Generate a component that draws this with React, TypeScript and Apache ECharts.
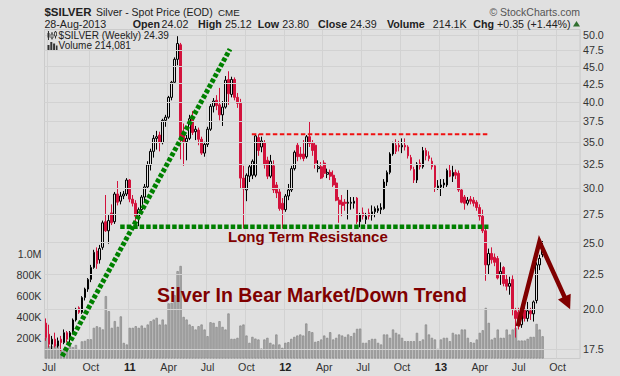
import React, { useEffect, useRef } from "react";
import * as echarts from "echarts";

// ---------- data ----------
const firstWeekUTC = Date.UTC(2010, 5, 25); // week ending Fri 25-Jun-2010
const totalSlots = 179; // weekly slots on the axis (includes empty future weeks)

// weekly bars: [open, high, low, close]
const ohlc2010 = [
  [19.1, 19.4, 18.0, 18.2], [18.4, 19.0, 17.6, 17.8], [17.8, 18.3, 17.5, 18.1], [18.1, 18.5, 17.6, 17.7],
  [17.7, 18.2, 17.6, 18.0], [18.1, 18.3, 17.4, 17.9], [17.9, 18.7, 17.8, 18.5], [18.5, 18.6, 17.9, 18.1],
  [18.1, 18.6, 17.9, 18.5], [18.6, 19.4, 18.4, 19.3], [19.3, 20.1, 19.2, 20.0], [20.1, 20.2, 19.7, 19.8],
  [19.8, 20.9, 19.7, 20.8], [20.8, 21.5, 20.6, 21.4], [21.4, 22.2, 21.2, 22.1], [22.1, 23.2, 21.9, 23.0],
  [23.0, 24.4, 22.9, 24.2], [24.3, 24.6, 22.9, 23.3], [23.6, 24.8, 23.3, 24.5], [24.6, 26.9, 24.4, 26.7],
  [26.8, 29.3, 25.9, 26.0], [26.0, 27.4, 24.9, 26.9], [27.6, 28.4, 26.5, 26.7], [26.8, 29.6, 26.6, 29.4],
  [29.4, 30.7, 28.3, 28.6], [28.7, 29.6, 28.4, 29.2], [29.2, 29.7, 28.9, 29.4], [29.4, 31.0, 29.2, 30.8],
];
const ohlc2011 = [
  [30.8, 30.9, 28.6, 28.9], [28.9, 29.3, 28.2, 28.5], [28.5, 28.8, 26.8, 27.3], [27.3, 28.1, 26.4, 27.9],
  [27.9, 29.3, 27.6, 29.1], [29.1, 30.4, 28.7, 30.1], [30.1, 32.8, 29.9, 32.4], [32.4, 34.2, 31.8, 33.9],
  [33.9, 35.8, 33.2, 35.4], [35.4, 36.3, 34.1, 35.6], [35.8, 36.2, 33.9, 34.9], [34.9, 37.8, 34.7, 37.6],
  [37.6, 38.3, 36.8, 38.0], [38.0, 40.8, 37.8, 40.6], [40.6, 42.9, 40.2, 42.7], [42.7, 46.4, 42.5, 46.1],
  [46.1, 49.8, 45.2, 48.6], [48.4, 48.7, 33.0, 35.2], [35.9, 37.2, 32.3, 35.0], [35.0, 35.8, 32.9, 35.4],
  [35.4, 38.3, 35.2, 37.8], [37.9, 38.8, 35.8, 36.1], [36.2, 36.9, 35.2, 36.5], [36.4, 36.7, 34.6, 35.3],
  [35.3, 35.6, 33.5, 33.7], [33.7, 35.0, 33.3, 34.7], [34.7, 36.8, 34.4, 36.5], [36.5, 39.7, 36.3, 39.4],
  [39.4, 40.5, 38.6, 40.1], [40.2, 40.9, 38.9, 39.5], [39.6, 41.9, 37.6, 38.3], [38.3, 40.1, 36.9, 39.3],
  [39.3, 43.6, 39.1, 43.0], [43.1, 44.3, 39.6, 41.1], [41.0, 43.5, 40.6, 43.1], [43.1, 43.4, 40.2, 40.6],
  [40.6, 41.2, 39.2, 39.8], [39.8, 40.4, 29.9, 31.0], [31.0, 32.3, 26.2, 29.9], [29.8, 31.5, 28.7, 31.3],
  [31.2, 32.5, 30.6, 32.2], [31.3, 33.0, 30.9, 32.8], [31.3, 35.8, 31.1, 35.7], [35.5, 35.9, 33.4, 34.0],
  [34.4, 35.6, 33.8, 35.1], [34.9, 35.2, 32.0, 32.4], [32.9, 33.3, 30.9, 31.2], [31.2, 33.5, 31.0, 32.8],
  [32.3, 32.9, 29.5, 29.8], [30.3, 30.6, 29.0, 29.5], [29.6, 29.9, 27.8, 28.0], [28.5, 29.0, 26.2, 27.9],
];
const ohlc2012 = [
  [27.9, 29.4, 27.7, 29.2], [29.2, 30.4, 28.8, 29.8], [29.8, 32.3, 29.6, 32.0], [32.0, 34.0, 31.8, 33.8],
  [34.6, 34.9, 32.8, 33.3], [33.6, 34.4, 33.0, 33.3], [33.6, 35.2, 32.8, 33.1], [33.3, 35.8, 33.1, 35.6],
  [35.6, 37.5, 34.4, 34.8], [34.8, 35.2, 33.4, 34.0], [34.6, 34.9, 32.0, 32.6], [32.0, 32.9, 31.6, 32.2],
  [32.2, 32.7, 30.9, 31.0], [32.6, 32.9, 31.1, 31.5], [31.4, 32.0, 31.0, 31.6], [31.6, 31.9, 30.8, 31.2],
  [31.3, 31.8, 30.1, 30.3], [30.5, 31.0, 28.7, 28.8], [28.8, 29.1, 26.7, 28.4], [28.6, 29.3, 27.3, 28.3],
  [28.6, 28.9, 27.8, 28.5], [28.5, 29.8, 27.0, 28.6], [28.5, 29.1, 27.9, 28.6], [28.5, 29.1, 28.0, 28.7],
  [29.0, 29.1, 26.6, 26.8], [26.8, 27.6, 26.3, 27.4], [27.6, 28.1, 27.0, 27.3], [27.0, 27.6, 26.6, 27.3],
  [27.6, 28.0, 27.0, 27.3], [27.4, 28.3, 26.9, 27.7], [27.7, 28.2, 27.2, 28.0], [27.8, 28.3, 27.6, 28.0],
  [27.9, 28.5, 27.5, 28.1], [28.0, 30.9, 27.9, 30.6], [30.6, 31.8, 30.2, 31.6], [31.6, 33.8, 31.4, 33.6],
  [33.6, 35.0, 33.4, 34.8], [34.6, 35.3, 33.6, 33.9], [34.6, 35.1, 33.9, 34.4], [34.4, 35.4, 33.7, 34.6],
  [34.6, 35.4, 34.0, 34.4], [34.4, 34.6, 33.1, 33.4], [33.2, 33.5, 31.8, 32.0], [31.9, 32.2, 30.5, 30.8],
  [30.8, 32.7, 30.5, 32.5], [32.6, 33.0, 31.9, 32.2], [32.2, 34.4, 32.0, 34.0], [34.0, 34.3, 32.9, 33.4],
  [33.4, 33.9, 32.8, 33.1], [32.8, 33.2, 31.9, 32.2], [32.3, 32.5, 29.6, 30.1], [30.0, 30.8, 29.8, 30.2],
];
const ohlc2013 = [
  [30.1, 30.9, 29.2, 30.3], [30.3, 30.9, 29.9, 30.5], [30.3, 32.0, 30.1, 31.8], [31.8, 32.4, 31.1, 31.2],
  [31.2, 32.3, 30.6, 31.6], [31.6, 31.9, 30.9, 31.3], [31.5, 31.8, 29.6, 29.8], [29.8, 30.0, 28.5, 28.6],
  [29.1, 29.3, 27.9, 28.5], [28.5, 29.1, 28.3, 28.8], [28.9, 29.2, 28.4, 28.7], [28.8, 29.1, 28.2, 28.5],
  [28.6, 28.8, 27.8, 28.1], [28.1, 28.4, 26.9, 27.3], [27.3, 27.9, 25.8, 26.0], [26.0, 26.2, 22.0, 23.2],
  [23.2, 24.5, 22.5, 24.1], [24.1, 24.6, 23.3, 23.6], [23.8, 24.1, 23.1, 23.4], [23.7, 23.9, 22.1, 22.2],
  [22.5, 23.4, 21.7, 22.7], [23.0, 23.1, 21.6, 21.8], [22.1, 22.5, 21.3, 21.6], [21.6, 22.3, 21.0, 21.8],
  [22.1, 22.4, 19.6, 20.0], [19.9, 20.1, 18.2, 19.4], [19.8, 20.1, 18.7, 19.0], [19.0, 20.3, 18.8, 19.8],
  [20.0, 20.3, 19.2, 19.4], [19.4, 20.5, 19.2, 19.9], [19.9, 20.1, 19.3, 19.7], [19.7, 20.6, 19.2, 20.5],
  [20.6, 23.4, 20.4, 23.2], [23.2, 24.0, 22.8, 23.7], [24.02, 25.12, 23.8, 24.39],
];

// weekly volume, thousands
const vol2010 = [200, 120, 120, 140, 140, 90, 95, 105, 125, 110, 130, 90, 165, 170, 185, 185, 295, 310, 300, 280, 600, 455, 295, 360, 305, 405, 150, 135];
const vol2011 = [295, 295, 311, 295, 317, 295, 327, 359, 375, 391, 327, 375, 327, 530, 535, 610, 840, 890, 400, 375, 327, 311, 279, 311, 327, 279, 215, 349, 343, 304, 359, 304, 279, 433, 189, 189, 199, 317, 327, 221, 151, 208, 192, 183, 96, 183, 199, 151, 135, 231, 135, 103];
const vol2012 = [151, 157, 189, 208, 221, 231, 221, 337, 263, 253, 160, 167, 183, 221, 199, 253, 183, 199, 231, 221, 208, 231, 215, 247, 285, 288, 151, 151, 176, 189, 189, 151, 135, 231, 231, 199, 279, 247, 231, 199, 167, 167, 167, 167, 247, 167, 183, 327, 231, 199, 183, 93];
const vol2013 = [183, 199, 199, 167, 247, 231, 231, 279, 279, 199, 157, 151, 183, 247, 272, 487, 343, 183, 199, 279, 199, 199, 279, 231, 279, 295, 173, 173, 173, 189, 208, 208, 333, 279, 214];

const priceLevels = [17.5, 20, 22.5, 25, 27.5, 30, 32.5, 35, 37.5, 40, 42.5, 45, 47.5, 50];
const quarterMonthNames: Record<number, string> = { 3: "Apr", 6: "Jul", 9: "Oct" };

// annotations: [week index, price]
const supportTrend = [[5.4, 17.1], [61.5, 47.7]];
const resistanceLine = [[24.8, 26.35], [147.9, 26.35]];
const rangeTopLine = [[68.8, 35.9], [148.3, 35.9]];
const bearArrow = [[157.7, 18.9], [164.95, 25.07], [175.2, 20.0]];

const FONT = "'Liberation Sans', Arial, sans-serif";
const RED = "#d3123c";

export default function App() {
  const ref = useRef<HTMLDivElement>(null);

  useEffect(() => {
    if (!ref.current) return;
    document.body.style.margin = "0";
    const chart = echarts.init(ref.current, undefined, { renderer: "svg" });

    const weekDates = Array.from({ length: totalSlots }, (_, i) =>
      new Date(firstWeekUTC + i * 7 * 86400000).toISOString().slice(0, 10)
    );
    const isQuarterStart = (idx: number) => {
      const d = new Date(weekDates[idx] + "T00:00:00Z");
      const m = d.getUTCMonth();
      const day = d.getUTCDate();
      return m % 3 === 0 && day >= 2 && day <= 8;
    };

    const ohlc = [...ohlc2010, ...ohlc2011, ...ohlc2012, ...ohlc2013];
    const candleData = ohlc.map(([o, h, l, c]) => [o, c, l, h]);
    const volumes = [...vol2010, ...vol2011, ...vol2012, ...vol2013].map((v) => v * 1000);

    chart.setOption({
      animation: false,
      backgroundColor: "#e0e0e0",
      textStyle: { fontFamily: FONT },
      grid: {
        left: 44.5, top: 29.5, width: 535.5, height: 329,
        show: true, backgroundColor: "#e0e0e0", borderColor: "#cbcbcb", borderWidth: 1,
      },
      xAxis: [
        {
          type: "category",
          data: weekDates,
          boundaryGap: true,
          axisLine: { show: false },
          axisTick: { show: false },
          axisLabel: {
            interval: (idx: number) => isQuarterStart(idx),
            formatter: (value: string) => {
              const d = new Date(value + "T00:00:00Z");
              const m = d.getUTCMonth();
              if (m === 0) return `{yr|${String(d.getUTCFullYear()).slice(2)}}`;
              return quarterMonthNames[m] || "";
            },
            color: "#333",
            fontSize: 10.7,
            fontFamily: FONT,
            margin: 3,
            rich: { yr: { fontWeight: "bold", fontSize: 11, color: "#222", fontFamily: FONT } },
          },
          splitLine: {
            show: true,
            interval: (idx: number) => isQuarterStart(idx),
            lineStyle: { color: "#d2d2d2", width: 1 },
          },
        },
        { type: "value", min: -0.5, max: totalSlots - 0.5, show: false },
      ],
      yAxis: [
        {
          type: "log", logBase: 10, min: 16.97, max: 50.93, position: "right",
          axisLabel: { show: false }, axisLine: { show: false }, axisTick: { show: false }, splitLine: { show: false },
        },
        {
          type: "value", min: 0, max: 3163000, interval: 200000, position: "left",
          axisLine: { show: false }, axisTick: { show: false }, splitLine: { show: false },
          axisLabel: {
            color: "#333", fontSize: 10.7, fontFamily: FONT, margin: 3,
            formatter: (v: number) => {
              const r = Math.round(v);
              if (r <= 0 || r > 1000000) return "";
              if (r >= 1000000) return (r / 1000000).toFixed(1) + "M";
              return r / 1000 + "K";
            },
          },
        },
      ],
      series: [
        {
          type: "line",
          xAxisIndex: 0,
          yAxisIndex: 0,
          data: [],
          z: 0,
          silent: true,
          markLine: {
            silent: true,
            symbol: "none",
            animation: false,
            lineStyle: { color: "#d2d2d2", type: "solid", width: 1 },
            label: {
              position: "end",
              distance: 3,
              color: "#333",
              fontSize: 10.7,
              fontFamily: FONT,
              formatter: (p: any) => Number(p.value).toFixed(1),
            },
            emphasis: { disabled: true },
            data: priceLevels.map((v) => ({ yAxis: v })),
          },
        },
        {
          type: "bar",
          xAxisIndex: 0,
          yAxisIndex: 1,
          data: volumes,
          barWidth: 2.3,
          itemStyle: { color: "#aaaaaa", borderColor: "#858585", borderWidth: 0.7 },
          silent: true,
          z: 2,
        },
        {
          type: "candlestick",
          xAxisIndex: 0,
          yAxisIndex: 0,
          data: candleData,
          barWidth: 2.2,
          itemStyle: {
            color: "rgba(0,0,0,0)",
            color0: RED,
            borderColor: "#000000",
            borderColor0: RED,
            borderWidth: 1,
          },
          silent: true,
          z: 3,
        },
      ],
    });

    const px = (pt: number[]) => [
      chart.convertToPixel({ xAxisIndex: 1 }, pt[0]) as number,
      chart.convertToPixel({ yAxisIndex: 0 }, pt[1]) as number,
    ];

    const s0 = px(supportTrend[0]), s1 = px(supportTrend[1]);
    const r0 = px(resistanceLine[0]), r1 = px(resistanceLine[1]);
    const t0 = px(rangeTopLine[0]), t1 = px(rangeTopLine[1]);
    const a0 = px(bearArrow[0]), a1 = px(bearArrow[1]), a2 = px(bearArrow[2]);

    // arrow head geometry
    const dx = a2[0] - a1[0], dy = a2[1] - a1[1];
    const len = Math.hypot(dx, dy);
    const ux = dx / len, uy = dy / len;
    const headLen = 14, headHalf = 7;
    const base = [a2[0] - ux * headLen, a2[1] - uy * headLen];
    const head = [
      [a2[0], a2[1]],
      [base[0] - uy * headHalf, base[1] + ux * headHalf],
      [base[0] + uy * headHalf, base[1] - ux * headHalf],
    ];
    const shaftEnd = [a2[0] - ux * (headLen - 2), a2[1] - uy * (headLen - 2)];

    const txt = (text: string, x: number, y: number, size: number, bold = false, fill = "#222", align = "left") => ({
      type: "text", x, y, z: 100, silent: true,
      style: { text, fontSize: size, fontWeight: bold ? "bold" : "normal", fontFamily: FONT, fill, align, verticalAlign: "middle" },
    });

    const headerY = 11.7, infoY = 23.7;
    chart.setOption({
      graphic: [
        txt("$SILVER", 44.4, headerY, 11.5, true, "#222"),
        txt("Silver - Spot Price (EOD)", 96, headerY, 10.5, false, "#222"),
        txt("CME", 218, headerY + 0.5, 9.8, false, "#222"),
        txt("© StockCharts.com", 580, headerY, 10.5, false, "#555", "right"),
        txt("28-Aug-2013", 44.4, infoY, 10.7, false, "#222"),
        txt("Open", 132.7, infoY, 10.7, true),
        txt("24.02", 161.6, infoY, 10.7),
        txt("High", 198, infoY, 10.7, true),
        txt("25.12", 225, infoY, 10.7),
        txt("Low", 257.8, infoY, 10.7, true),
        txt("23.80", 282.3, infoY, 10.7),
        txt("Close", 318, infoY, 10.7, true),
        txt("24.39", 350, infoY, 10.7),
        txt("Volume", 387, infoY, 10.7, true),
        txt("214.1K", 432.8, infoY, 10.7),
        txt("Chg", 473.2, infoY, 10.7, true),
        txt("+0.35 (+1.44%)", 497, infoY, 10.7),
        { type: "polygon", z: 100, silent: true, shape: { points: [[573, 26.5], [580, 26.5], [576.5, 21]] }, style: { fill: "#2f6f2f" } },
        // legend icons + texts
        { type: "line", z: 100, silent: true, shape: { x1: 48.5, y1: 31, x2: 48.5, y2: 40 }, style: { stroke: "#333", lineWidth: 1 } },
        { type: "rect", z: 100, silent: true, shape: { x: 47.5, y: 33, width: 2, height: 4.5 }, style: { fill: "#333" } },
        { type: "line", z: 100, silent: true, shape: { x1: 52, y1: 32, x2: 52, y2: 39.5 }, style: { stroke: "#333", lineWidth: 1 } },
        { type: "rect", z: 100, silent: true, shape: { x: 51, y: 34, width: 2, height: 4 }, style: { fill: "#e0e0e0", stroke: "#333", lineWidth: 0.8 } },
        { type: "line", z: 100, silent: true, shape: { x1: 55.5, y1: 31, x2: 55.5, y2: 38.5 }, style: { stroke: "#333", lineWidth: 1 } },
        { type: "rect", z: 100, silent: true, shape: { x: 54.5, y: 32, width: 2, height: 4 }, style: { fill: "#e0e0e0", stroke: "#333", lineWidth: 0.8 } },
        { type: "rect", z: 100, silent: true, shape: { x: 47.5, y: 45, width: 2, height: 5 }, style: { fill: "#333" } },
        { type: "rect", z: 100, silent: true, shape: { x: 50.3, y: 42, width: 2, height: 8 }, style: { fill: "#333" } },
        { type: "rect", z: 100, silent: true, shape: { x: 53.1, y: 43.5, width: 2, height: 6.5 }, style: { fill: "#333" } },
        { type: "rect", z: 100, silent: true, shape: { x: 55.9, y: 45.5, width: 1.6, height: 4.5 }, style: { fill: "#333" } },
        txt("$SILVER (Weekly) 24.39", 58.6, 35.7, 10, false, "#222"),
        txt("Volume 214,081", 58.6, 45.7, 10, false, "#222"),
        // annotations
        { type: "line", z: 90, silent: true, shape: { x1: s0[0], y1: s0[1], x2: s1[0], y2: s1[1] }, style: { stroke: "#008000", lineWidth: 5, lineDash: [4, 2] } },
        { type: "line", z: 90, silent: true, shape: { x1: r0[0], y1: r0[1], x2: r1[0], y2: r1[1] }, style: { stroke: "#008000", lineWidth: 4.5, lineDash: [4.5, 2] } },
        { type: "line", z: 90, silent: true, shape: { x1: t0[0], y1: t0[1], x2: t1[0], y2: t1[1] }, style: { stroke: "#f01010", lineWidth: 2, lineDash: [4.5, 2.5] } },
        { type: "polyline", z: 91, silent: true, shape: { points: [a0, a1, shaftEnd] }, style: { stroke: "#800000", lineWidth: 4.5, fill: null, lineJoin: "miter" } },
        { type: "polygon", z: 91, silent: true, shape: { points: head }, style: { fill: "#800000" } },
        txt("Long Term Resistance", 228, 236.5, 15, true, "#800000"),
        txt("Silver In Bear Market/Down Trend", 157, 295, 19.5, true, "#800000"),
      ],
    });

    return () => chart.dispose();
  }, []);

  return <div ref={ref} style={{ position: "absolute", left: 0, top: 0, width: 620, height: 376 }} />;
}
